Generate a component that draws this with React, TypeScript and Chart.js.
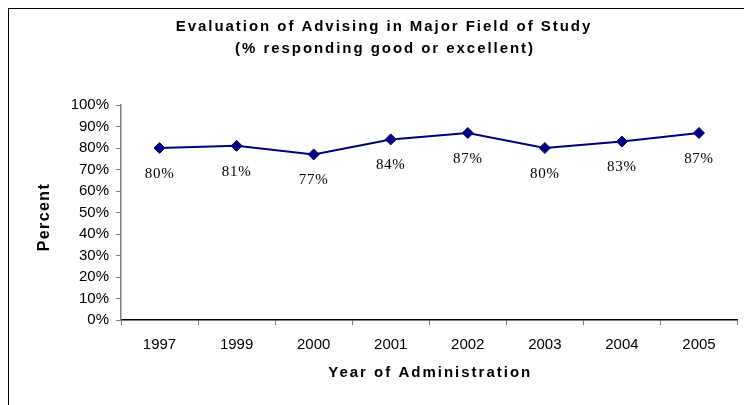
import React, { useEffect, useRef } from "react";
import { Chart, registerables } from "chart.js";

Chart.register(...registerables);

const years = ["1997", "1999", "2000", "2001", "2002", "2003", "2004", "2005"];
const percentGoodOrExcellent = [80, 81, 77, 84, 87, 80, 83, 87];
const titleLines = ["Evaluation of Advising in Major Field of Study", "(% responding good or excellent)"];
const xAxisTitle = "Year of Administration";
const yAxisTitle = "Percent";

const textPlugin = {
  id: "customText",
  afterDatasetsDraw(chart: any) {
    const ctx = chart.ctx;
    const meta = chart.getDatasetMeta(0);
    ctx.save();
    ctx.fillStyle = "#000";
    ctx.font = "15px 'Liberation Serif'";
    ctx.textAlign = "center";
    ctx.textBaseline = "middle";
    (ctx as any).letterSpacing = "0.7px";
    meta.data.forEach((pt: any, i: number) => {
      ctx.fillText(percentGoodOrExcellent[i] + "%", pt.x, pt.y + 26);
    });
    ctx.restore();
  },
  afterDraw(chart: any) {
    const ctx = chart.ctx;
    const area = chart.chartArea;
    ctx.save();
    ctx.fillStyle = "#000";
    ctx.textAlign = "center";
    ctx.textBaseline = "middle";
    ctx.font = "bold 15px 'Liberation Sans'";
    (ctx as any).letterSpacing = "1.95px";
    ctx.fillText(titleLines[0], 375, 18);
    ctx.fillText(titleLines[1], 376, 40);
    ctx.font = "bold 15px 'Liberation Sans'";
    (ctx as any).letterSpacing = "2px";
    ctx.fillText(xAxisTitle, (area.left + area.right) / 2 + 1, 364);
    ctx.translate(36, 208);
    ctx.rotate(-Math.PI / 2);
    ctx.font = "bold 16px 'Liberation Sans'";
    (ctx as any).letterSpacing = "1.4px";
    ctx.fillText(yAxisTitle, 0, 0);
    ctx.restore();
  },
};

export default function App() {
  const ref = useRef<HTMLCanvasElement>(null);
  useEffect(() => {
    if (!ref.current) return;
    const chart = new Chart(ref.current, {
      type: "line",
      data: {
        labels: years,
        datasets: [
          {
            data: percentGoodOrExcellent,
            borderColor: "#000080",
            backgroundColor: "#000080",
            borderWidth: 2,
            pointStyle: "rectRot",
            pointRadius: 5.5,
            pointBackgroundColor: "#000080",
            pointBorderColor: "#000080",
            pointBorderWidth: 1,
            tension: 0,
          },
        ],
      },
      options: {
        responsive: false,
        animation: false,
        events: [],
        layout: { padding: { top: 96, right: 3, left: 0, bottom: 0 } },
        plugins: {
          legend: { display: false },
          title: { display: false },
          tooltip: { enabled: false },
        },
        scales: {
          x: {
            offset: true,
            grid: {
              offset: true,
              drawOnChartArea: false,
              drawTicks: true,
              tickLength: 5,
              tickColor: "#808080",
            },
            border: { color: "#000", width: 1.5 },
            ticks: {
              color: "#000",
              font: { family: "'Liberation Sans'", size: 15 },
              padding: 11,
              maxRotation: 0,
              autoSkip: false,
            },
            afterFit(axis: any) {
              axis.height = 85;
            },
          },
          y: {
            min: 0,
            max: 100,
            grid: {
              drawOnChartArea: false,
              drawTicks: true,
              tickLength: 5,
              tickColor: "#808080",
            },
            border: { color: "#808080", width: 1.5 },
            ticks: {
              stepSize: 10,
              color: "#000",
              font: { family: "'Liberation Sans'", size: 15 },
              padding: 7,
              callback: (v: any) => v + "%",
            },
            afterFit(axis: any) {
              axis.width = 112;
            },
          },
        },
      },
      plugins: [textPlugin],
    });
    return () => chart.destroy();
  }, []);
  return (
    <div
      style={{
        position: "fixed",
        left: 8,
        top: 8,
        width: 735,
        height: 396,
        borderLeft: "1px solid #000",
        borderTop: "1px solid #000",
        background: "#fff",
      }}
    >
      <canvas ref={ref} width={735} height={396} style={{ display: "block" }} />
    </div>
  );
}
